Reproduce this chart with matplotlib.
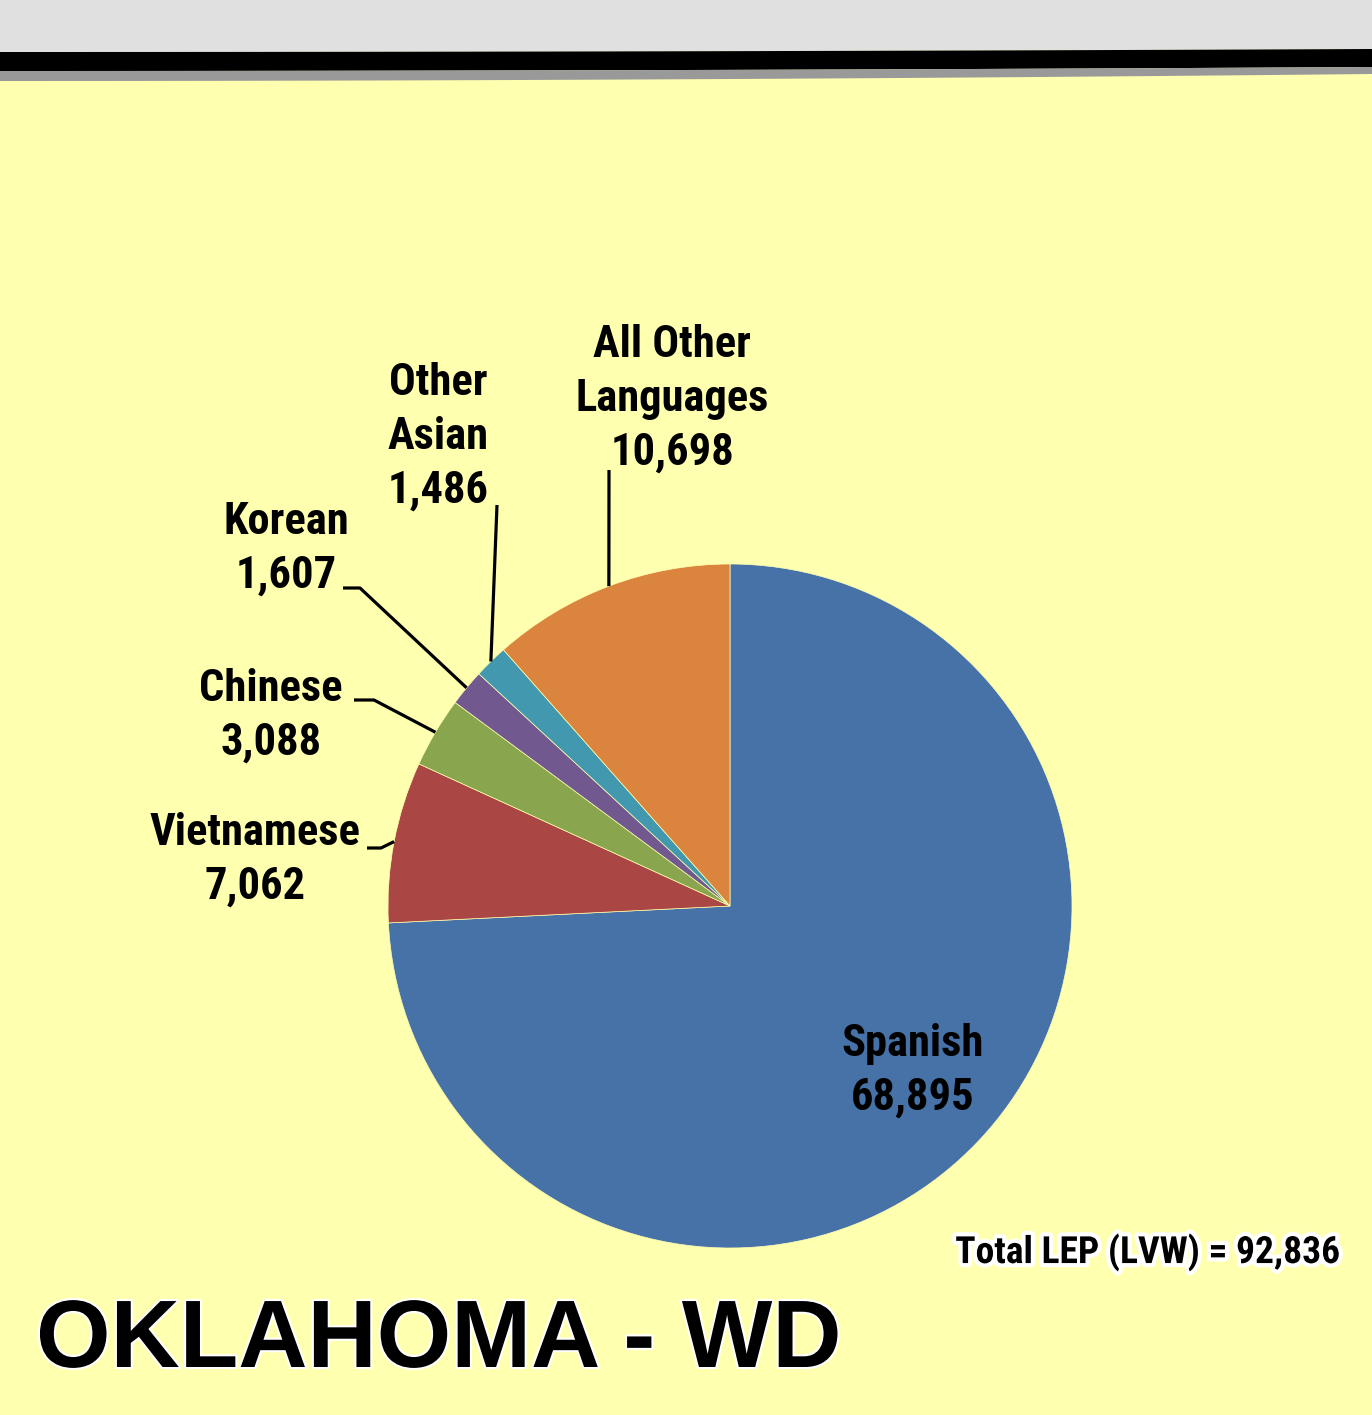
import matplotlib
matplotlib.use('Agg')
import matplotlib.pyplot as plt
import matplotlib.patheffects as pe
import numpy as np

# Data for the pie (clockwise from 12 o'clock)
languages = ['Spanish', 'Vietnamese', 'Chinese', 'Korean', 'Other\nAsian', 'All Other\nLanguages']
speakers = [68895, 7062, 3088, 1607, 1486, 10698]
colors = ['#4672A8', '#AA4744', '#89A54E', '#71588F', '#4198AF', '#DB843D']
total_lep = 92836
title = 'OKLAHOMA - WD'

W, H = 1372, 1415
BG = '#FFFFB0'
narrow = ['Roboto Condensed', 'DejaVu Sans']

fig = plt.figure(figsize=(W / 100, H / 100), dpi=100, facecolor=BG)
ax = fig.add_axes([0, 0, 1, 1])
ax.set_facecolor(BG)

# top banner: grey band, thick black rule, grey shadow
xs = np.linspace(0, W, 50)
curve = 3 * (xs / W) ** 2
ax.fill_between(xs, H, H - 52 + curve, color='#E0E0E0', lw=0, zorder=1)
ax.fill_between(xs, H - 52 + curve, H - 71 + 4 * (xs / W) ** 2, color='black', lw=0, zorder=2)
ax.fill_between(xs, H - 71 + 4 * (xs / W) ** 2, H - 81 + 7 * (xs / W) ** 2, color='#999999', lw=0, zorder=2)

cx, cy, r = 730, H - 906, 342
wedges, _ = ax.pie(speakers, colors=colors, startangle=90, counterclock=False,
                   center=(cx, cy), radius=r, frame=True,
                   wedgeprops=dict(linewidth=0.5, edgecolor=BG))

txt = dict(fontsize=32, fontweight='bold', family=narrow, ha='center', va='center',
           linespacing=1.35, zorder=5)

# label text centres and elbow points of the leader lines
label_pos = [(913, 1071), (255, 860), (271, 716), (286, 549), (438, 437), (672, 399)]
elbows = [None,
          [(367, 848), (381, 848)],
          [(354, 700), (374, 700)],
          [(343, 588), (360, 588)],
          [(497, 505)],
          [(609, 470)]]

for w, lang, val, (lx, ly), elb in zip(wedges, languages, speakers, label_pos, elbows):
    ax.text(lx, H - ly, f'{lang}\n{val:,}', **txt)
    if elb is None:
        continue
    mid = np.deg2rad((w.theta1 + w.theta2) / 2)
    ex, ey = cx + r * np.cos(mid), cy + r * np.sin(mid)
    px = [p[0] for p in elb] + [ex]
    py = [H - p[1] for p in elb] + [ey]
    ax.plot(px, py, color='black', lw=2.3, solid_capstyle='butt', zorder=4)

ax.text(1340, H - 1252, f'Total LEP (LVW) = {total_lep:,}', fontsize=27, fontweight='bold',
        family=narrow, ha='right', va='center', zorder=5,
        path_effects=[pe.withStroke(linewidth=6, foreground='white')])

ax.text(36, H - 1342, title, fontsize=69, fontweight='bold',
        family=['Liberation Sans', 'DejaVu Sans'], ha='left', va='center', zorder=5,
        path_effects=[pe.withStroke(linewidth=3, foreground='white')])

ax.set_xlim(0, W)
ax.set_ylim(0, H)
ax.set_aspect('equal')
ax.axis('off')

plt.savefig('out.png', dpi=100, facecolor=BG)
